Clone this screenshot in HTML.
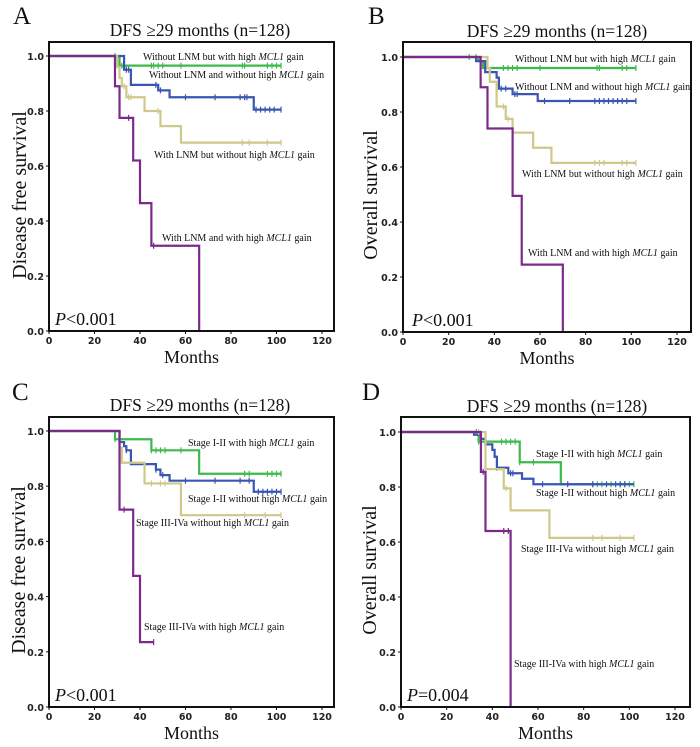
<!DOCTYPE html>
<html><head><meta charset="utf-8"><style>
html,body{margin:0;padding:0;background:#fff}
svg{display:block}
.tk{font-family:"DejaVu Sans","Liberation Sans",sans-serif;font-size:9.5px;font-weight:bold;fill:#222}
.sr{font-family:"Liberation Serif",serif;fill:#111}
</style></head><body>
<svg id="fig" width="700" height="747" viewBox="0 0 700 747" xmlns="http://www.w3.org/2000/svg"></svg>
<script>
// ---- data (months, survival) ----
const xTicks=[0,20,40,60,80,100,120];
const yTicks=[0.0,0.2,0.4,0.6,0.8,1.0];
const panelLetters=["A","B","C","D"];
const panelTitle="DFS ≥29 months (n=128)";
const yTitles=["Disease free survival","Overall survival","Disease free survival","Overall survival"];
const pTexts=["<0.001","<0.001","<0.001","=0.004"];
const colors=["#3dba4b","#3a55b2","#cfc88a","#7b2a8c"];
// A
const aGreenT=[0,31,102],aGreenS=[1,0.965,0.965];
const aBlueT=[0,33,36,48,53,90,102],aBlueS=[1,0.95,0.895,0.875,0.85,0.805,0.805];
const aTanT=[0,30,31,32,34,42,49,58,102],aTanS=[1,0.96,0.92,0.89,0.85,0.80,0.745,0.685,0.685];
const aPurT=[0,29,31,37,40,45,66],aPurS=[1,0.89,0.775,0.62,0.465,0.31,0];
// B
const bGreenT=[0,33,35,102],bGreenS=[1,0.985,0.96,0.96];
const bBlueT=[0,32,36,41,42,48,59,102],bBlueS=[1,0.985,0.945,0.925,0.885,0.865,0.84,0.84];
const bTanT=[0,37,38,41,45,48,57,65,102],bTanS=[1,0.96,0.91,0.82,0.775,0.725,0.67,0.615,0.615];
const bPurT=[0,34,37,48,52,70],bPurS=[1,0.89,0.74,0.495,0.245,0];
// C
const cGreenT=[0,29,45,66,102],cGreenS=[1,0.97,0.93,0.845,0.845];
const cBlueT=[0,31,33,34,36,47,49,53,90,102],cBlueS=[1,0.96,0.945,0.93,0.88,0.86,0.84,0.82,0.78,0.78];
const cTanT=[0,31,32,42,58,102],cTanS=[1,0.94,0.885,0.81,0.695,0.695];
const cPurT=[0,31,37,40,46],cPurS=[1,0.715,0.475,0.235,0.235];
// D
const dGreenT=[0,34,52,70,102],dGreenS=[1,0.965,0.89,0.81,0.81];
const dBlueT=[0,32,35,37,40,41,42,47,53,58,102],dBlueS=[1,0.99,0.975,0.955,0.935,0.91,0.87,0.85,0.83,0.81,0.81];
const dTanT=[0,37,45,48,65,102],dTanS=[1,0.865,0.795,0.715,0.615,0.615];
const dPurT=[0,35,37,48],dPurS=[1,0.855,0.64,0];
// censor times per series (green, blue, tan, purple)
const censA=[[29,32,33,45,46,48,50,58,85,86,96,98,100,102],[34,35,47,49,60,73,84,86,87,91,93,95,97,99,102],[33,35,36,48,85,88,96,102],[35,46]];
const censB=[[29,32,44,46,48,50,60,85,86,96,98,102],[43,45,49,50,62,73,84,86,88,90,92,94,96,98,102],[44,46,84,86,88,96,98,102],[]];
const censC=[[29,31,45,47,49,51,58,86,88,96,98,100,102],[34,47,50,60,73,84,88,92,94,96,98,100,102],[45,49,51,86,95,102],[33,46]];
const censD=[[33,34,44,46,48,50,52,58,84,86,88,92,96,98,100,102],[42,48,49,62,73,84,90,94,96,98],[34,46,84,88,96,102],[36,45,47]];
const labelsA=["Without LNM but with high |MCL1| gain","Without LNM and without high |MCL1| gain","With LNM but without high |MCL1| gain","With LNM and with high |MCL1| gain"];
const labelsC=["Stage I-II with high |MCL1| gain","Stage I-II without high |MCL1| gain","Stage III-IVa without high |MCL1| gain","Stage III-IVa with high |MCL1| gain"];

const panels=[
 {bx:49,by:42,br:334,bb:331,x0:49,x120:322,y1:56,y0:331,
  series:[[aGreenT,aGreenS],[aBlueT,aBlueS],[aTanT,aTanS],[aPurT,aPurS]],cens:censA,labels:labelsA,
  lp:[[143,60],[149,78],[154,158],[162,241]],letter:[13,24],title:[200,36],yt:[26,195],p:[55,325]},
 {bx:403,by:42,br:691,bb:332,x0:403,x120:677,y1:57,y0:332,
  series:[[bGreenT,bGreenS],[bBlueT,bBlueS],[bTanT,bTanS],[bPurT,bPurS]],cens:censB,labels:labelsA,
  lp:[[515,62],[515,90],[522,177],[528,256]],letter:[368,24],title:[557,37],yt:[377,195],p:[412,326]},
 {bx:49,by:417,br:334,bb:707,x0:49,x120:322,y1:431,y0:707,
  series:[[cGreenT,cGreenS],[cBlueT,cBlueS],[cTanT,cTanS],[cPurT,cPurS]],cens:censC,labels:labelsC,
  lp:[[188,446],[188,502],[136,526],[144,630]],letter:[12,400],title:[200,411],yt:[25,570],p:[55,701]},
 {bx:401,by:417,br:690,bb:707,x0:401,x120:675,y1:432,y0:707,
  series:[[dGreenT,dGreenS],[dBlueT,dBlueS],[dTanT,dTanS],[dPurT,dPurS]],cens:censD,labels:labelsC,
  lp:[[536,457],[536,496],[521,552],[514,667]],letter:[362,400],title:[557,412],yt:[376,570],p:[407,701]}
];
const NS="http://www.w3.org/2000/svg";
const svg=document.getElementById("fig");
function mk(tag,attrs,parent){const e=document.createElementNS(NS,tag);for(const k in attrs)e.setAttribute(k,attrs[k]);(parent||svg).appendChild(e);return e;}
function stepAt(T,S,t){let s=S[0];for(let i=0;i<T.length;i++){if(T[i]<=t)s=S[i];}return s;}

panels.forEach((P,pi)=>{
 const g=mk("g",{});
 
 
 const xs=t=>P.x0+(P.x120-P.x0)*t/120;
 const ys=v=>P.y0-(P.y0-P.y1)*v;
 P.series.forEach((sr,si)=>{
  const T=sr[0],S=sr[1];
  let d="M"+xs(T[0])+","+ys(S[0]);
  for(let i=1;i<T.length;i++){d+=" H"+xs(T[i])+" V"+ys(S[i]);}
  const p=mk("path",{d:d,fill:"none",stroke:colors[si],"stroke-width":2.2},g);
  
  
  P.cens[si].forEach(t=>{
   const cx=xs(t),cy=ys(stepAt(T,S,t));
   const c=mk("line",{x1:cx,x2:cx,y1:cy-3,y2:cy+3,stroke:colors[si],"stroke-width":1.2},g);
   
   
  });
 });
 const fr=mk("rect",{x:P.bx,y:P.by,width:P.br-P.bx,height:P.bb-P.by,fill:"none",stroke:"#111","stroke-width":2},g);
 
 
 xTicks.forEach(v=>{
  const x=xs(v);
  mk("line",{x1:x,x2:x,y1:P.bb,y2:P.bb+3,stroke:"#111"},g);
  const t=mk("text",{x:x,y:P.bb+13,"text-anchor":"middle",class:"tk"},g);t.textContent=v;
  
  
 });
 yTicks.forEach(v=>{
  const y=ys(v);
  mk("line",{x1:P.bx-3,x2:P.bx,y1:y,y2:y,stroke:"#111"},g);
  const t=mk("text",{x:P.bx-5,y:y+4,"text-anchor":"end",class:"tk"},g);t.textContent=v.toFixed(1);
  
  
 });
 P.labels.forEach((L,li)=>{
  const parts=L.split("|");
  const t=mk("text",{x:P.lp[li][0],y:P.lp[li][1],class:"sr","font-size":"10"},g);
  
  
  parts.forEach((pt,k)=>{const s=mk("tspan",k===1?{"font-style":"italic"}:{},t);s.textContent=pt;});
 });
 const lt=mk("text",{x:P.letter[0],y:P.letter[1],class:"sr","font-size":"25"},g);lt.textContent=panelLetters[pi];
 
 
 const tt=mk("text",{x:P.title[0],y:P.title[1],class:"sr","font-size":"17.5","text-anchor":"middle"},g);tt.textContent=panelTitle;
 
 
 const yt=mk("text",{x:0,y:0,class:"sr","font-size":"20","text-anchor":"middle",transform:"translate("+P.yt[0]+","+P.yt[1]+") rotate(-90)"},g);yt.textContent=yTitles[pi];
 
 
 const xt=mk("text",{x:(P.bx+P.br)/2,y:P.bb+32,class:"sr","font-size":"18","text-anchor":"middle"},g);xt.textContent="Months";
 
 
 const pv=mk("text",{x:P.p[0],y:P.p[1],class:"sr","font-size":"18"},g);
 
 
 const a=mk("tspan",{"font-style":"italic"},pv);a.textContent="P";
 const b=mk("tspan",{},pv);b.textContent=pTexts[pi];
});
</script>
</body></html>
